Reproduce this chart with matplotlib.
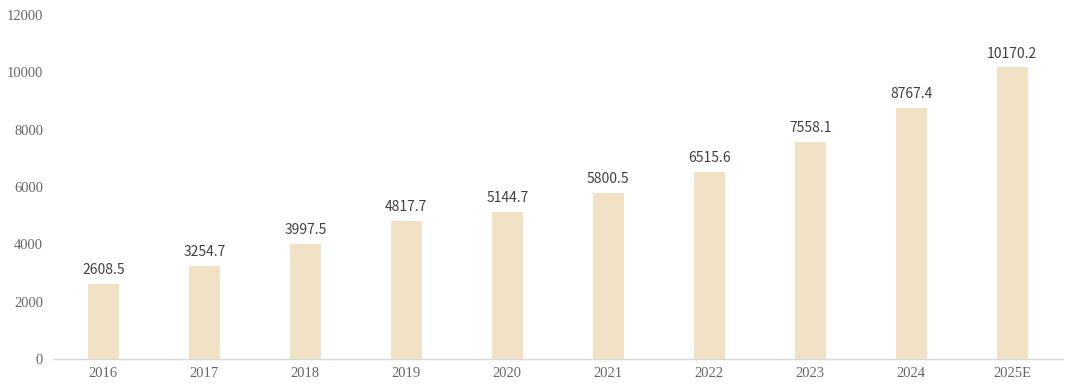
import matplotlib
matplotlib.use("Agg")
import matplotlib.pyplot as plt

years = ["2016", "2017", "2018", "2019", "2020", "2021", "2022", "2023", "2024", "2025E"]
values = [2608.5, 3254.7, 3997.5, 4817.7, 5144.7, 5800.5, 6515.6, 7558.1, 8767.4, 10170.2]
yticks = [0, 2000, 4000, 6000, 8000, 10000, 12000]

fig = plt.figure(figsize=(10.8, 3.9), dpi=100)
ax = fig.add_axes([0.049, 0.0795, 0.935, 0.882])

x = list(range(len(years)))
ax.bar(x, values, width=0.31, color="#F2E2C5", zorder=2)
for xi, v in zip(x, values):
    ax.annotate(f"{v:.1f}", (xi, v), xytext=(0, 5), textcoords="offset points",
                ha="center", va="bottom", fontsize=10, color="#404040",
                family=["Noto Sans CJK SC", "DejaVu Sans"])

ax.set_xlim(-0.5, len(years) - 0.5)
ax.set_ylim(0, 12000)
ax.set_xticks(x)
ax.set_xticklabels(years, family="Liberation Serif", fontsize=10.5, color="#666666")
ax.set_yticks(yticks)
ax.set_yticklabels([str(t) for t in yticks], family="Liberation Serif", fontsize=10.5, color="#666666")
ax.tick_params(axis="both", length=0)
ax.tick_params(axis="x", pad=6)
ax.tick_params(axis="y", pad=7)
for s in ["top", "right", "left"]:
    ax.spines[s].set_visible(False)
ax.spines["bottom"].set_color("#d9d9d9")
ax.spines["bottom"].set_linewidth(1.0)

fig.savefig("out.png", dpi=100)
